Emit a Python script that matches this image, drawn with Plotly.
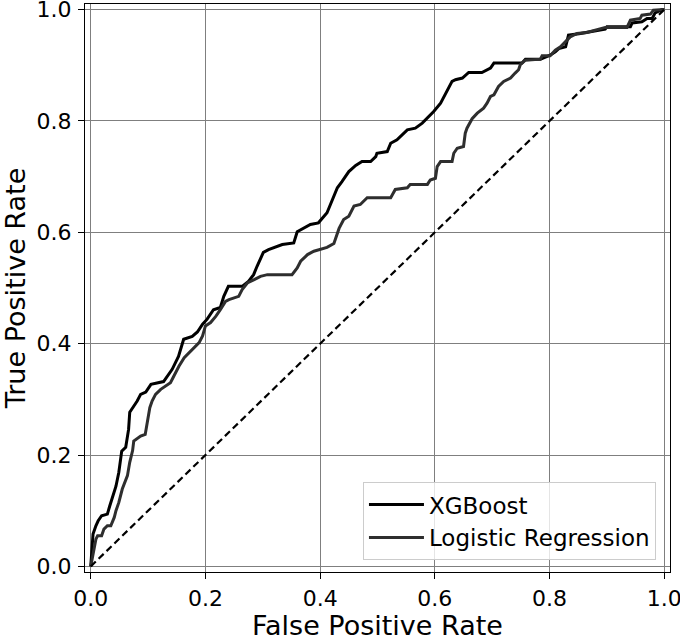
"""ROC curves: XGBoost vs Logistic Regression."""

import plotly.graph_objects as go

# XGBoost ROC points
xgb_fpr = [0.0, 0.004, 0.009, 0.013, 0.019, 0.029, 0.033, 0.038, 0.044, 0.049,
           0.054, 0.061, 0.066, 0.068, 0.075, 0.081, 0.087, 0.096, 0.105, 0.127,
           0.142, 0.153, 0.162, 0.177, 0.186, 0.195, 0.203, 0.214, 0.226, 0.232,
           0.240, 0.264, 0.275, 0.284, 0.290, 0.301, 0.310, 0.334, 0.354, 0.360,
           0.383, 0.397, 0.412, 0.421, 0.430, 0.438, 0.450, 0.462, 0.473, 0.488,
           0.497, 0.499, 0.517, 0.523, 0.534, 0.552, 0.566, 0.578, 0.587, 0.598,
           0.610, 0.621, 0.630, 0.636, 0.648, 0.659, 0.682, 0.697, 0.703, 0.752,
           0.758, 0.784, 0.801, 0.810, 0.816, 0.828, 0.833, 0.854, 0.868, 0.897,
           0.900, 0.941, 0.944, 0.961, 0.970, 0.979, 0.984, 0.996, 1.0]
xgb_tpr = [0.0, 0.058, 0.073, 0.082, 0.091, 0.094, 0.108, 0.125, 0.144, 0.169,
           0.207, 0.214, 0.246, 0.277, 0.288, 0.297, 0.309, 0.313, 0.327, 0.332,
           0.354, 0.377, 0.408, 0.413, 0.421, 0.435, 0.444, 0.461, 0.465, 0.485,
           0.503, 0.503, 0.512, 0.524, 0.539, 0.564, 0.569, 0.578, 0.581, 0.601,
           0.614, 0.617, 0.635, 0.659, 0.680, 0.691, 0.709, 0.720, 0.727, 0.727,
           0.736, 0.742, 0.745, 0.760, 0.766, 0.784, 0.787, 0.796, 0.805, 0.817,
           0.832, 0.853, 0.871, 0.874, 0.877, 0.887, 0.887, 0.895, 0.904, 0.904,
           0.911, 0.911, 0.918, 0.924, 0.930, 0.933, 0.954, 0.957, 0.960, 0.965,
           0.969, 0.969, 0.976, 0.978, 0.984, 0.984, 0.994, 1.0, 1.0]

# Logistic Regression ROC points
lr_fpr = [0.0, 0.009, 0.012, 0.019, 0.023, 0.029, 0.035, 0.041, 0.044, 0.049,
          0.055, 0.060, 0.064, 0.068, 0.073, 0.075, 0.081, 0.087, 0.095, 0.099,
          0.103, 0.107, 0.113, 0.122, 0.131, 0.139, 0.145, 0.154, 0.163, 0.174,
          0.183, 0.189, 0.195, 0.200, 0.209, 0.218, 0.226, 0.235, 0.241, 0.250,
          0.258, 0.264, 0.273, 0.285, 0.296, 0.308, 0.351, 0.360, 0.366, 0.378,
          0.389, 0.412, 0.424, 0.433, 0.441, 0.450, 0.459, 0.470, 0.479, 0.482,
          0.523, 0.531, 0.552, 0.557, 0.587, 0.592, 0.601, 0.604, 0.610, 0.630,
          0.633, 0.639, 0.650, 0.653, 0.656, 0.665, 0.674, 0.685, 0.691, 0.697,
          0.703, 0.711, 0.720, 0.732, 0.740, 0.746, 0.749, 0.758, 0.784, 0.787,
          0.801, 0.810, 0.819, 0.830, 0.836, 0.848, 0.865, 0.897, 0.935, 0.941,
          0.958, 0.961, 0.976, 0.981, 1.0]
lr_tpr = [0.0, 0.049, 0.055, 0.055, 0.067, 0.073, 0.073, 0.088, 0.100, 0.115,
          0.139, 0.151, 0.163, 0.187, 0.208, 0.225, 0.230, 0.234, 0.237, 0.264,
          0.285, 0.297, 0.309, 0.318, 0.324, 0.330, 0.342, 0.360, 0.375, 0.387,
          0.396, 0.402, 0.414, 0.432, 0.438, 0.449, 0.461, 0.476, 0.479, 0.482,
          0.485, 0.497, 0.509, 0.515, 0.521, 0.524, 0.524, 0.536, 0.548, 0.560,
          0.566, 0.573, 0.580, 0.607, 0.623, 0.629, 0.647, 0.650, 0.659, 0.662,
          0.662, 0.677, 0.680, 0.686, 0.686, 0.694, 0.697, 0.718, 0.727, 0.727,
          0.742, 0.751, 0.754, 0.778, 0.787, 0.804, 0.814, 0.823, 0.832, 0.844,
          0.847, 0.862, 0.871, 0.877, 0.886, 0.892, 0.901, 0.909, 0.911, 0.917,
          0.917, 0.927, 0.933, 0.945, 0.951, 0.957, 0.959, 0.968, 0.968, 0.981,
          0.984, 0.990, 0.992, 0.999, 1.0]

chance = [0.0, 1.0]
ticks = [0.0, 0.2, 0.4, 0.6, 0.8, 1.0]
tick_text = ["0.0", "0.2", "0.4", "0.6", "0.8", "1.0"]

FONT = "DejaVu Sans"

fig = go.Figure()

fig.add_trace(
    go.Scatter(
        x=xgb_fpr,
        y=xgb_tpr,
        mode="lines",
        name="XGBoost",
        line=dict(color="#000000", width=3),
    )
)

fig.add_trace(
    go.Scatter(
        x=lr_fpr,
        y=lr_tpr,
        mode="lines",
        name="Logistic Regression",
        line=dict(color="#2e2e2e", width=3),
    )
)

fig.add_trace(
    go.Scatter(
        x=chance,
        y=chance,
        mode="lines",
        showlegend=False,
        line=dict(color="#000000", width=2.2, dash="7px,4px"),
    )
)

axis_style = dict(
    range=[-0.01, 1.01],
    tickvals=ticks,
    ticktext=tick_text,
    automargin=False,
    showgrid=True,
    gridcolor="#7f7f7f",
    gridwidth=1,
    zeroline=False,
    showline=True,
    linecolor="#000000",
    linewidth=1.2,
    mirror=True,
    ticks="outside",
    ticklen=6,
    tickwidth=1,
    tickcolor="#000000",
    ticklabeloverflow="allow",
    tickfont=dict(family=FONT, size=22, color="#000000"),
)

fig.update_layout(
    width=680,
    height=636,
    paper_bgcolor="#ffffff",
    plot_bgcolor="#ffffff",
    font=dict(family=FONT, color="#000000"),
    margin=dict(l=85, r=10, t=4, b=64),
    xaxis=dict(**axis_style, ticklabelstandoff=0),
    yaxis=dict(
        **axis_style,
        ticklabelstandoff=2,
        title=dict(text="True Positive Rate", font=dict(family=FONT, size=27)),
    ),
    legend=dict(
        x=0.976,
        y=0.021,
        xanchor="right",
        yanchor="bottom",
        bgcolor="rgba(255,255,255,0.8)",
        bordercolor="#cccccc",
        borderwidth=1,
        font=dict(family=FONT, size=23, color="#000000"),
        itemwidth=55,
        tracegroupgap=2,
    ),
)

# x axis title placed by hand so it can sit right at the bottom edge
fig.add_annotation(
    text="False Positive Rate",
    xref="paper",
    yref="paper",
    x=0.5,
    y=-0.095,
    xanchor="center",
    yanchor="middle",
    showarrow=False,
    font=dict(family=FONT, size=27, color="#000000"),
)

fig.write_html(
    "out.html",
    config={"displayModeBar": False},
    post_script="document.body.style.margin='0px';",
)
